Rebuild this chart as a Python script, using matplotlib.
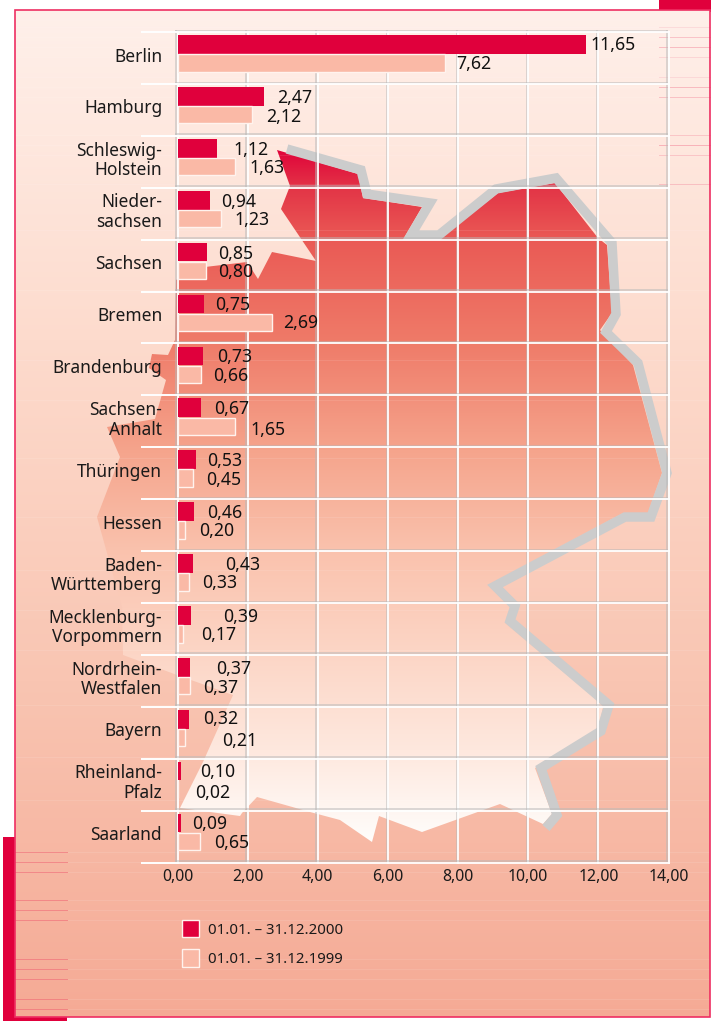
import numpy as np
import matplotlib
matplotlib.use("Agg")
import matplotlib.pyplot as plt
from matplotlib.patches import Polygon, Rectangle, Patch
from matplotlib.colors import to_rgb
from matplotlib.transforms import Affine2D, ScaledTranslation
from matplotlib import patheffects as pe

plt.rcParams['font.family'] = ['Noto Sans', 'DejaVu Sans']

# ---------- data ----------
categories = ["Berlin", "Hamburg", "Schleswig-\nHolstein", "Nieder-\nsachsen", "Sachsen",
              "Bremen", "Brandenburg", "Sachsen-\nAnhalt", "Thüringen", "Hessen",
              "Baden-\nWürttemberg", "Mecklenburg-\nVorpommern", "Nordrhein-\nWestfalen",
              "Bayern", "Rheinland-\nPfalz", "Saarland"]
values_2000 = [11.65, 2.47, 1.12, 0.94, 0.85, 0.75, 0.73, 0.67, 0.53, 0.46, 0.43, 0.39, 0.37, 0.32, 0.10, 0.09]
values_1999 = [7.62, 2.12, 1.63, 1.23, 0.80, 2.69, 0.66, 1.65, 0.45, 0.20, 0.33, 0.17, 0.37, 0.21, 0.02, 0.65]
series_names = ["01.01. – 31.12.2000", "01.01. – 31.12.1999"]
x_ticks = [0, 2, 4, 6, 8, 10, 12, 14]

# ---------- hand placement of the value labels (pixels, left edge / centre) ----------
lab_left_2000 = [590, 277, 233, 221, 218, 215, 217.5, 214, 207, 207.5, 225, 223, 216, 203.5, 200.5, 192]
lab_y_2000 = [45, 98, 150, 202, 254, 305, 357, 409, 461, 513, 565, 617, 669, 719, 772, 824]
lab_left_1999 = [456, 266, 249, 234, 218, 283, 213, 250, 206, 199.5, 202, 201.5, 203, 222.5, 195, 214]
lab_y_1999 = [64, 117, 168, 220, 272, 323, 376, 430, 480, 531, 583, 635, 688, 741, 793, 843]

# ---------- decorative map silhouette (pixels) ----------
map_fill = [(277,150),(358,174),(363,198),(422,207),(404,238),(441,238),(498,193),(555,183),(598,238),
            (607,245),(612,313),(600,330),(633,365),(662,473),(648,513),(623,513),(488,585),(510,607),
            (505,623),(597,700),(603,707),(598,730),(535,768),(552,814),(543,824),(500,804),(422,832),
            (379,816),(372,842),(340,820),(310,812),(257,797),(242,813),(240,816),(180,808),(203,762),
            (233,695),(177,675),(123,655),(122,607),(97,517),(120,457),(107,427),(155,419),(166,380),
            (149,368),(152,354),(168,355),(175,340),(176,280),(205,267),(247,262),(258,279),(272,252),
            (316,261),(281,209),(290,186)]
map_band = [(287,149),(361,170),(367,194),(430,203),(411,235),(439,235),(496,189),(556,178),(612,243),
            (616,314),(606,332),(638,363),(667,473),(651,517),(625,517),(495,586),(515,606),(510,621),
            (609,705),(601,731),(541,768),(557,815),(546,828)]

stripe_y = [27,37,47,57,77,87,97,135,145,155,184,230,290,360,400,458,517,570,610,650,
            705,757,800,852,862,872,900,910,920,959,969,979,999,1009]
tab_tr = [(27,.10),(37,.22),(47,.25),(57,.12),(77,.10),(87,.25),(97,.22),(135,.18),(145,.28),(155,.18),(184,.2)]
tab_bl = [852,862,872,900,910,920,959,969,979,999,1009]

RED = "#e0003c"
PEACH = "#fab9a6"
W, H = 711, 1021
fig = plt.figure(figsize=(W/100, H/100), dpi=100, facecolor="white")

# background axes in pixel coordinates
bg = fig.add_axes([0, 0, 1, 1])
bg.set_xlim(0, W); bg.set_ylim(H, 0); bg.axis("off")

bg.add_patch(Rectangle((659, 0), 52, 12, fc=RED, ec="none"))
bg.add_patch(Rectangle((3, 837), 13, 184, fc=RED, ec="none"))
bg.add_patch(Rectangle((3, 1016), 64, 5, fc=RED, ec="none"))

def grad(stops):
    ys = np.arange(0, H)
    p = [s[0] for s in stops]
    cols = np.array([to_rgb(s[1]) for s in stops])
    return np.stack([np.interp(ys, p, cols[:, i]) for i in range(3)], axis=1)[:, None, :]

page = grad([(10, "#fff0ea"), (340, "#fddbcd"), (680, "#f9c5b2"), (1016, "#f5aa95")])
im = bg.imshow(page, extent=(0, W, H, 0), aspect="auto", zorder=1, interpolation="bilinear")
im.set_clip_path(Rectangle((15, 10.5), 695, 1006, transform=bg.transData))
bg.set_xlim(0, W); bg.set_ylim(H, 0)

mp = grad([(150, "#e0033a"), (190, "#e33647"), (240, "#ea5a55"), (340, "#ef7a68"), (450, "#f5a48c"),
           (550, "#fac2ad"), (650, "#fcd5c5"), (750, "#fee8de"), (840, "#fffdfb")])
im2 = bg.imshow(mp, extent=(0, W, H, 0), aspect="auto", zorder=2, interpolation="bilinear")
im2.set_clip_path(Polygon(map_fill, closed=True, transform=bg.transData))
bg.set_xlim(0, W); bg.set_ylim(H, 0)

bx, by = zip(*map_band)
bg.plot(bx, by, color="#cccccc", lw=6.8, solid_joinstyle="miter", solid_capstyle="butt", zorder=3)

for y in stripe_y:
    bg.plot([15, 710], [y, y], color="white", lw=0.7, alpha=0.10, zorder=2.5)
for y, a in tab_tr:
    bg.plot([659, 710], [y, y], color="#e8234f", lw=0.7, alpha=a, zorder=4)
for y in tab_bl:
    bg.plot([15, 67], [y, y], color="#ee3b55", lw=0.7, alpha=0.4, zorder=4)

bg.add_patch(Rectangle((14.7, 10.3), 695.3, 1006.2, fc="none", ec="#ee2f62", lw=1.2, zorder=5))

# main chart axes
x0, x1, ytop, ybot = 177.5, 668.5, 32.0, 862.5
ax = fig.add_axes([x0/W, 1-ybot/H, (x1-x0)/W, (ybot-ytop)/H])
ax.patch.set_alpha(0)
n = len(categories)
ax.set_xlim(0, 14)
ax.set_ylim(n-0.5, -0.5)
for s in ax.spines.values():
    s.set_visible(False)

rows = np.arange(n)
ax.barh(rows-0.26, values_2000, height=0.36, color=RED, edgecolor="none", zorder=4, label=series_names[0])
ax.barh(rows+0.095, values_1999, height=0.335, color=PEACH, edgecolor="#fff3ee", linewidth=1.0, zorder=4,
        left=0.0, label=series_names[1])

ax.set_axisbelow(False)
shadow = [pe.SimpleLineShadow(offset=(-1.0, 1.0), shadow_color="#b8b8b8", alpha=0.55), pe.Normal()]
ax.set_xticks(x_ticks)
ax.set_xticklabels([f"{t:.2f}".replace(".", ",") for t in x_ticks], fontsize=11.4, color="#1a1a1a")
ax.tick_params(axis="x", length=0, pad=5)
ax.set_yticks(rows)
ax.set_yticklabels(categories, fontsize=12.5, color="#1a1a1a", ha="right", linespacing=1.12,
                   va="center")
ax.tick_params(axis="y", which="major", length=0, pad=11)
up = ScaledTranslation(0, 1.4/100, fig.dpi_scale_trans)
for lab in ax.get_yticklabels():
    lab.set_transform(lab.get_transform() + up)
ax.set_yticks(np.arange(-0.5, n), minor=True)
ax.tick_params(axis="y", which="minor", length=27, width=1.4, color="white")

ax.xaxis.grid(True); ax.yaxis.grid(True, which="minor"); ax.yaxis.grid(False, which="major")
for t in ax.xaxis.get_major_ticks() + ax.yaxis.get_minor_ticks():
    t.gridline.set(color="white", lw=1.3, path_effects=shadow, clip_on=False)

# value labels
px = Affine2D().scale(1/W, -1/H).translate(0, 1) + fig.transFigure
for v, l, y in zip(values_2000, lab_left_2000, lab_y_2000):
    fig.text(l, y, f"{v:.2f}".replace(".", ","), transform=px, fontsize=12.7, color="#111111", ha="left", va="center", zorder=10)
for v, l, y in zip(values_1999, lab_left_1999, lab_y_1999):
    fig.text(l, y, f"{v:.2f}".replace(".", ","), transform=px, fontsize=12.7, color="#111111", ha="left", va="center", zorder=10)

# legend
handles = [Patch(fc=RED, ec="#fff3ee", lw=1.0), Patch(fc=PEACH, ec="#fff3ee", lw=1.0)]
leg = fig.legend(handles, series_names, loc="upper left", bbox_to_anchor=(179/W, 1-917/H), frameon=False,
                 fontsize=10.8, handlelength=1.15, handleheight=1.38, handletextpad=0.6, labelspacing=0.79,
                 borderaxespad=0, borderpad=0.2, labelcolor="#1a1a1a")

fig.savefig("out.png", dpi=100, facecolor="white")
